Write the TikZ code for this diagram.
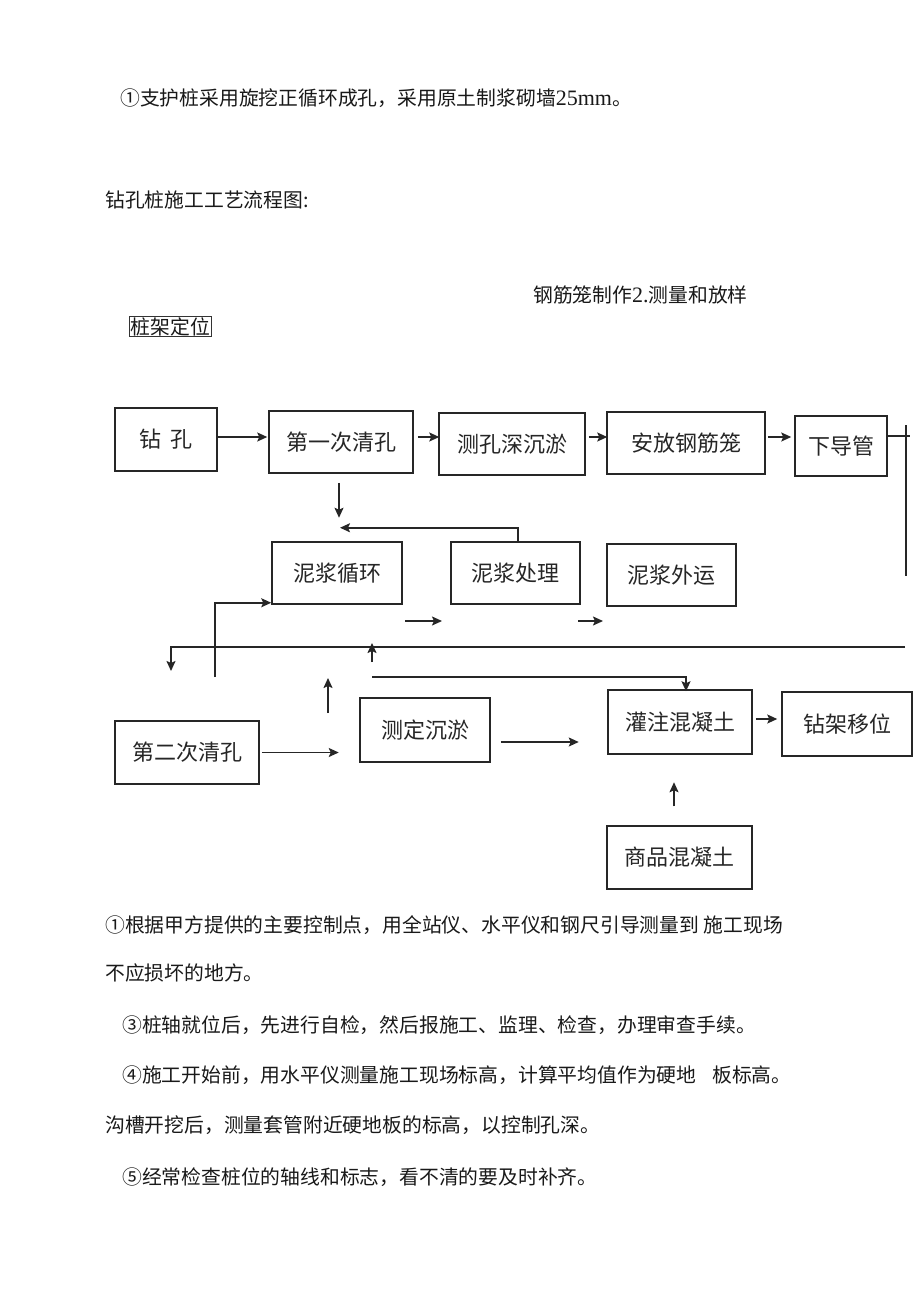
\documentclass[tikz,border=0pt]{standalone}
\usepackage{fontspec}
\setmainfont{Noto Sans CJK SC}
\newfontfamily\tnr{Liberation Serif}
\usetikzlibrary{arrows.meta,calc}
\begin{document}
\begin{tikzpicture}[x=1pt,y=-1pt,
  txt/.style={anchor=west,inner sep=0pt,font=\fontsize{19.8}{23}\selectfont,text=black!90},
  flowbox/.style={draw=black!85,line width=1.5pt,inner sep=0pt,font=\fontsize{22}{26}\selectfont,text=black!85},
  ln/.style={draw=black!85,line width=1.6pt},
  arr/.style={ln,-{Stealth[length=10pt,width=9pt,inset=2pt]}},
]
\useasboundingbox (0,0) rectangle (920,1297);
\fill[white] (0,0) rectangle (920,1297);

% texts above
\node[txt] (t1) at (120,98) {①支护桩采用旋挖正循环成孔，采用原土制浆砌墙{\tnr\fontsize{22}{26}\selectfont 25mm}。};
\node[txt] (t2) at (105,200) {钻孔桩施工工艺流程图:};
\node[txt] (t3) at (533,295) {钢筋笼制作{\tnr\fontsize{22}{26}\selectfont 2.}测量和放样};
\node[txt,anchor=center,draw=black!80,line width=1pt,inner sep=1pt] (zjdw) at (170.5,326.5) {桩架定位};

% boxes
\node[flowbox,minimum width=102pt,minimum height=63pt] (zk) at (166,439.5) {钻\hspace{0.45em}孔};
\node[flowbox,minimum width=144pt,minimum height=62pt] (qk1) at (341,442) {第一次清孔};
\node[flowbox,minimum width=146pt,minimum height=62pt] (ck) at (512,444) {测孔深沉淤};
\node[flowbox,minimum width=158pt,minimum height=62pt] (af) at (686,443) {安放钢筋笼\hspace{16pt}};
\node[flowbox,minimum width=92pt,minimum height=60pt] (xd) at (841,446) {下导管};
\node[flowbox,minimum width=130pt,minimum height=62pt] (njxh) at (337,573) {泥浆循环};
\node[flowbox,minimum width=129pt,minimum height=62pt] (njcl) at (515.5,573) {泥浆处理};
\node[flowbox,minimum width=129pt,minimum height=62pt] (njwy) at (671.5,575) {泥浆外运};
\node[flowbox,minimum width=144pt,minimum height=63pt] (qk2) at (187,752.5) {第二次清孔};
\node[flowbox,minimum width=130pt,minimum height=64pt] (cd) at (425,730) {测定沉淤};
\node[flowbox,minimum width=144pt,minimum height=64pt] (gz) at (680,722) {灌注混凝土};
\node[flowbox,minimum width=130pt,minimum height=64pt] (zj) at (847,724) {钻架移位};
\node[flowbox,minimum width=145pt,minimum height=63pt] (sp) at (679.5,857.5) {商品混凝土};

% free coordinates
\coordinate (rtop) at (906,425);
\coordinate (rbot) at (906,576);
\coordinate (a1s) at (405,621);
\coordinate (a1e) at (442,621);
\coordinate (a2s) at (578,621);
\coordinate (a2e) at (603,621);
\coordinate (lr) at (905,647);
\coordinate (ll) at (171,671);
\coordinate (u1s) at (372,662);
\coordinate (u1e) at (372,643);
\coordinate (u2s) at (328,713);
\coordinate (u2e) at (328,678);
\coordinate (hs) at (372,677);
\coordinate (vs) at (215,677);

% row 1 connectors
\draw[arr] ($(zk.east)+(0,-2.5)$) -- ($(qk1.west)+(-1,-5)$);
\draw[arr] ($(qk1.east)+(4,-5)$) -- ($(ck.west)+(1,-7)$);
\draw[arr] ($(ck.east)+(3,-7)$) -- ($(af.west)+(1,-6)$);
\draw[arr] ($(af.east)+(2,-6)$) -- ($(xd.west)+(-3,-9)$);
\draw[ln] ($(xd.east)+(0,-10)$) -- ++(22,0);
\draw[ln] (rtop) -- (rbot);

% mud loop
\draw[arr] ($(qk1.south)+(-2,9)$) -- ++(0,35);
\draw[arr] ($(njcl.north)+(2.5,0)$) |- ($(qk1.south)+(-1,54)$);
\draw[arr] (vs) |- ($(njxh.south west)+(0,-2)$);
\draw[arr] (a1s) -- (a1e);
\draw[arr] (a2s) -- (a2e);

% long return line
\draw[arr] (lr) -| (ll);
\draw[arr] (u1s) -- (u1e);
\draw[arr] (u2s) -- (u2e);
\draw[arr] (hs) -| ($(gz.north)+(6,2)$);

% row 3 connectors
\draw[arr] ($(qk2.east)+(2,0)$) -- ++(77,0);
\draw[arr] ($(cd.east)+(10,12)$) -- ++(78,0);
\draw[arr] ($(gz.east)+(3,-3)$) -- ($(zj.west)+(-4,-5)$);
\draw[arr] ($(sp.north)+(-5.5,-19)$) -- ++(0,-24);

% texts below
\node[txt] (b1) at (105,925) {①根据甲方提供的主要控制点，用全站仪、水平仪和钢尺引导测量到\ 施工现场};
\node[txt] (b2) at (105,973) {不应损坏的地方。};
\node[txt] (b3) at (122,1025) {③桩轴就位后，先进行自检，然后报施工、监理、检查，办理审查手续。};
\node[txt] (b4) at (122,1075) {④施工开始前，用水平仪测量施工现场标高，计算平均值作为硬地\hspace{0.8em}板标高。};
\node[txt] (b5) at (105,1125) {沟槽开挖后，测量套管附近硬地板的标高，以控制孔深。};
\node[txt] (b6) at (122,1177) {⑤经常检查桩位的轴线和标志，看不清的要及时补齐。};
\end{tikzpicture}
\end{document}
